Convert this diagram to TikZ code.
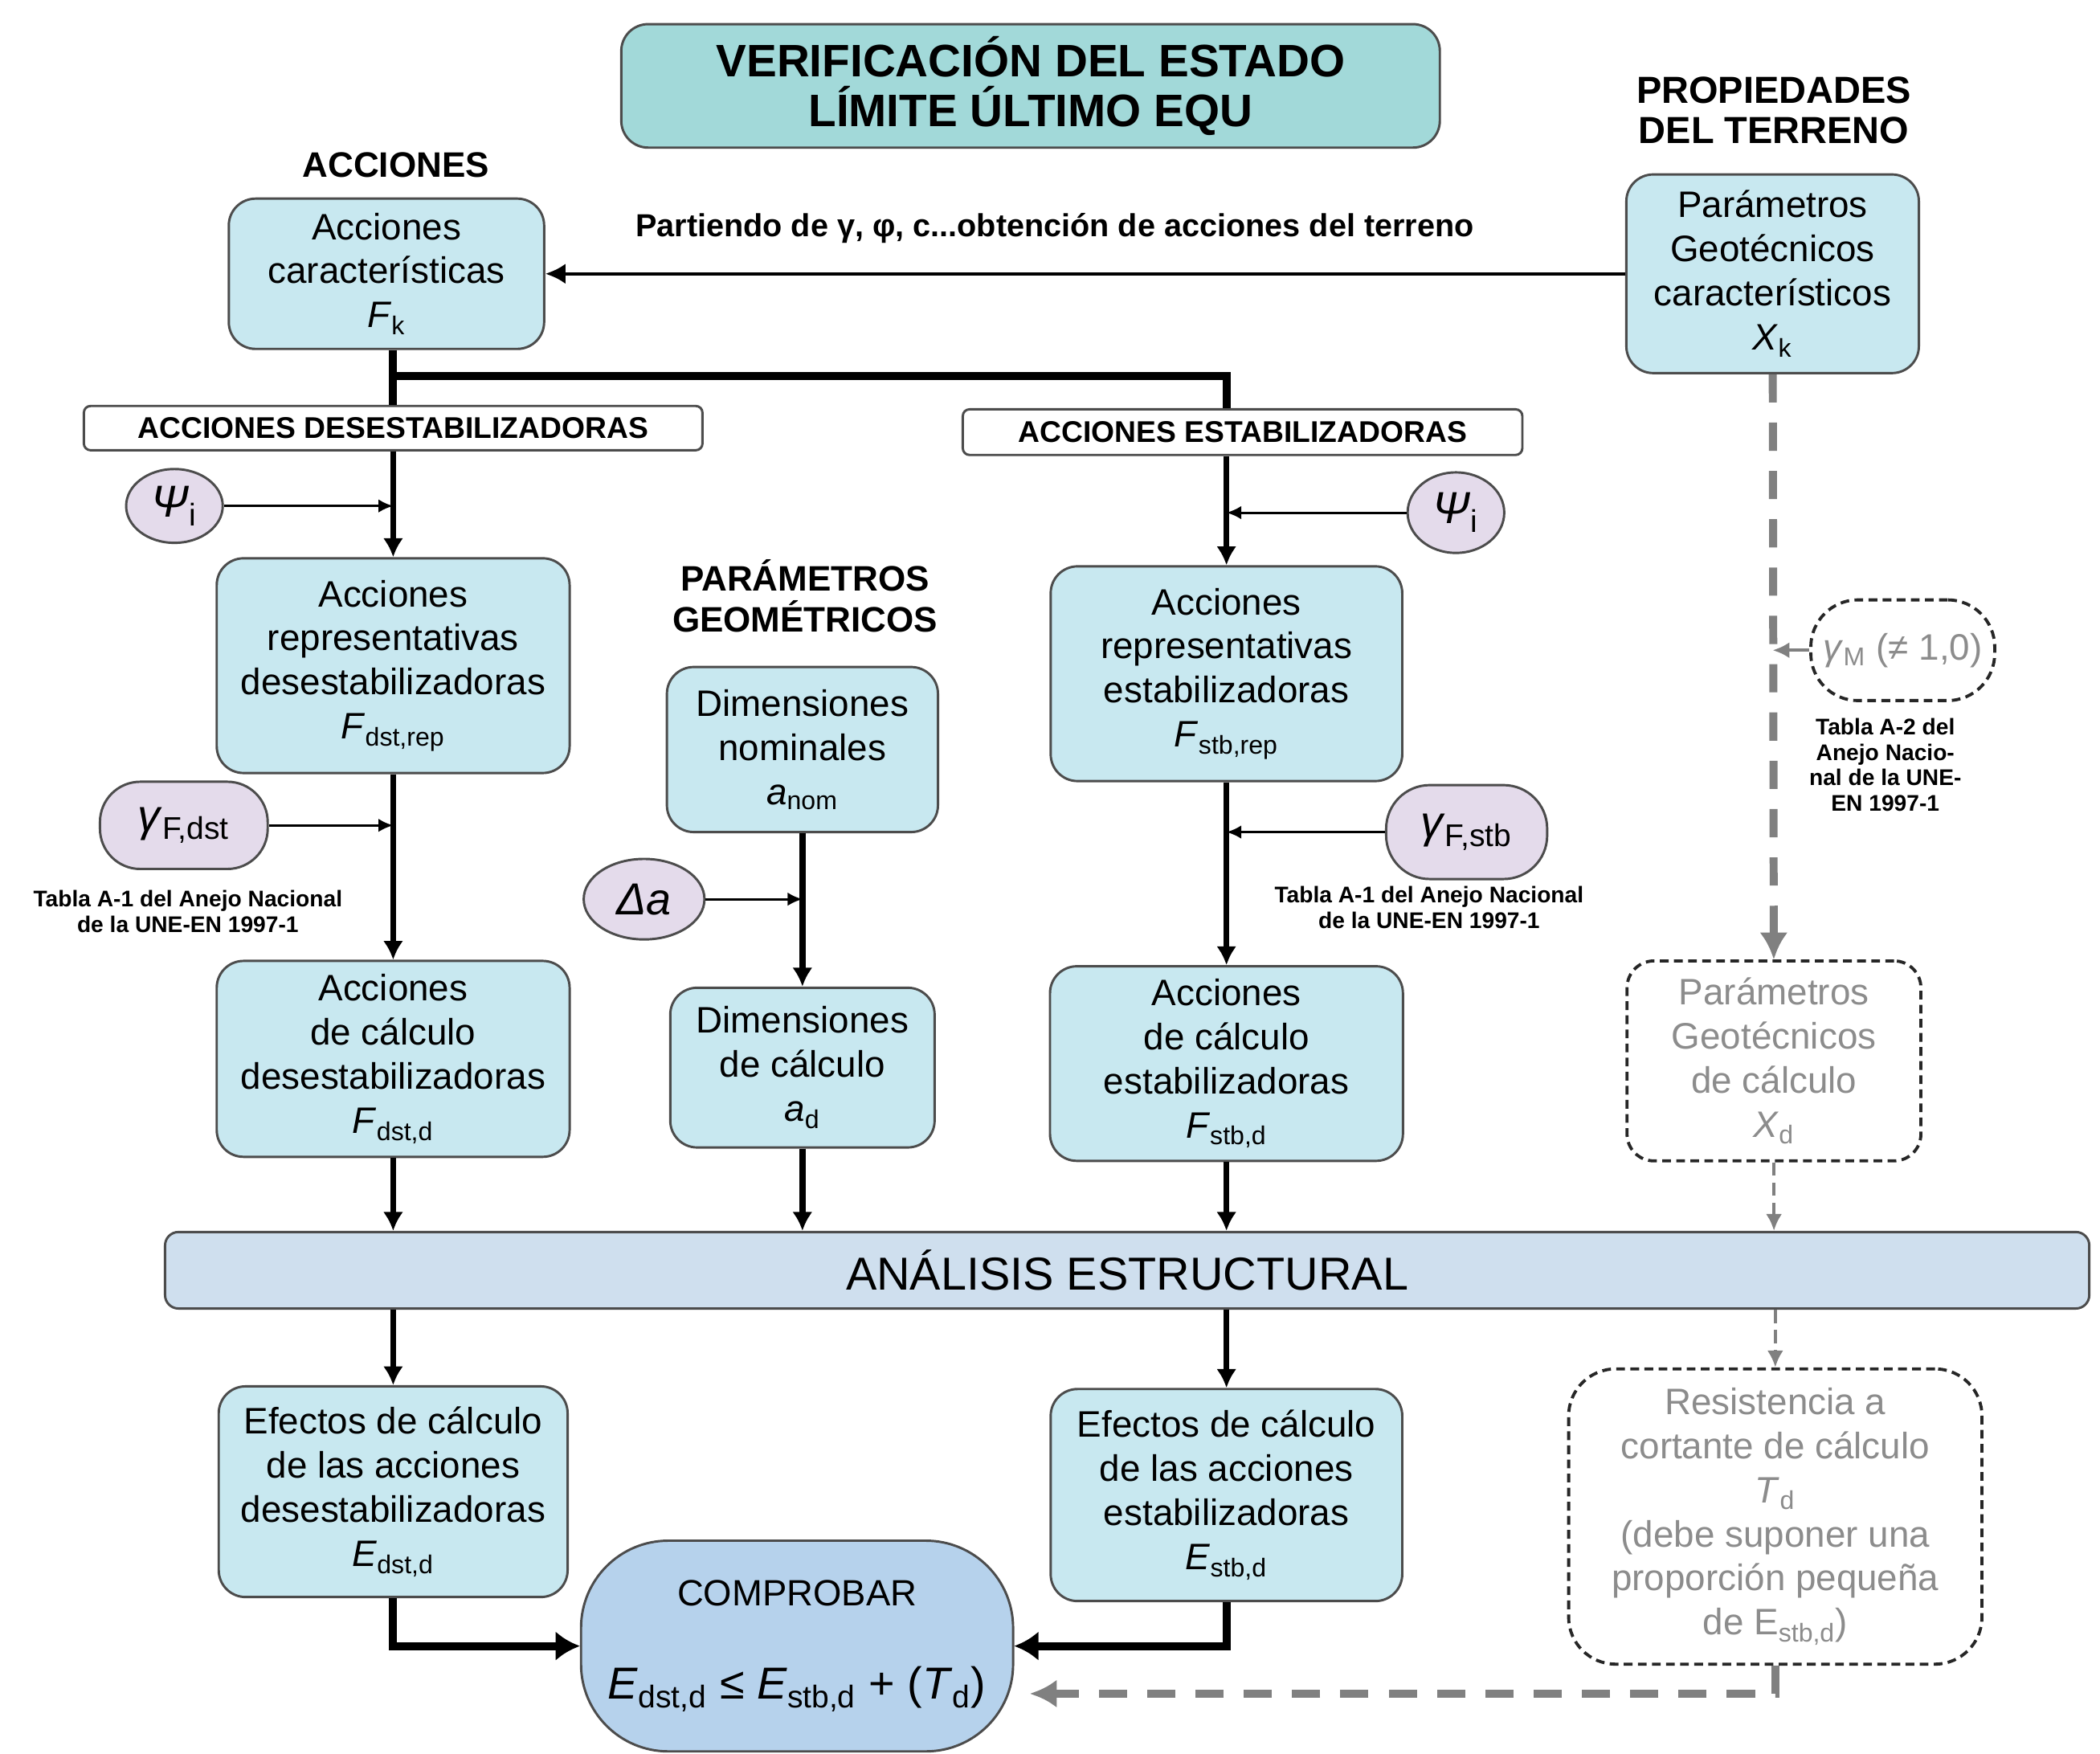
\documentclass[tikz,border=0pt]{standalone}
\usepackage{fontspec}
\setmainfont{Liberation Sans}
\usepackage{tikz}
\usetikzlibrary{arrows,arrows.meta,shapes,positioning}
\usepackage{xcolor}
\definecolor{cajaazul}{RGB}{200,232,240}
\definecolor{tituloazul}{RGB}{162,217,217}
\definecolor{lila}{RGB}{228,219,235}
\definecolor{barraazul}{RGB}{207,223,238}
\definecolor{compazul}{RGB}{182,210,236}
\definecolor{grisclaro}{RGB}{140,140,140}
\definecolor{grisflecha}{RGB}{128,128,128}
\tikzstyle{caja} = [rectangle, rounded corners=0.4cm, draw=black!70, line width=1pt, fill=cajaazul, align=center, inner sep=2pt, font=\fontsize{15.6}{18.7}\selectfont]
\tikzstyle{cajagris} = [caja, fill=white, draw=black!85, line width=1.3pt, dash pattern=on 0.13cm off 0.08cm, text=grisclaro]
\tikzstyle{titulo} = [rectangle, rounded corners=0.4cm, draw=black!70, line width=1pt, fill=tituloazul, align=center, font=\bfseries\fontsize{19.3}{21}\selectfont]
\tikzstyle{rotulo} = [rectangle, rounded corners=0.1cm, draw=black!70, line width=1pt, fill=white, inner sep=0pt, font=\bfseries\fontsize{12.7}{14}\selectfont]
\tikzstyle{coef} = [ellipse, draw=black!70, line width=1pt, fill=lila, inner sep=0pt, font=\fontsize{19}{21}\selectfont]
\tikzstyle{cabecera} = [align=center, font=\bfseries\fontsize{15}{17.5}\selectfont]
\tikzstyle{nota} = [align=center, font=\bfseries\fontsize{9.6}{10.8}\selectfont]
\tikzstyle{flecha} = [line width=2.6pt, ->, >={Latex[length=0.28cm,width=0.3cm]}]
\tikzstyle{flechafina} = [line width=1pt, ->, >={Latex[length=0.22cm,width=0.2cm]}]
\tikzstyle{flechagruesa} = [line width=3.4pt, ->, >={Latex[length=0.36cm,width=0.44cm]}]
\tikzstyle{tronco} = [line width=3.4pt]
\tikzstyle{grisgruesa} = [line width=3.4pt, grisflecha, dash pattern=on 0.42cm off 0.3cm, ->, >={Latex[length=0.4cm,width=0.42cm]}]
\tikzstyle{grisfina} = [line width=1.4pt, grisflecha, ->, >={Latex[length=0.25cm,width=0.24cm]}]

\begin{document}
\begin{tikzpicture}
\useasboundingbox[fill=white] (0,0) rectangle (31.3,-26.13);

% Titulo y cabeceras
\node[titulo, minimum width=12.2cm, minimum height=1.84cm] (tit) at (15.36,-1.28) {VERIFICACIÓN DEL ESTADO\\LÍMITE ÚLTIMO EQU};
\node[cabecera] (hacc) at (5.9,-2.46) {ACCIONES};
\node[cabecera, font=\bfseries\fontsize{16}{17}\selectfont] (hprop) at (26.44,-1.64) {PROPIEDADES\\DEL TERRENO};
\node[cabecera] (hgeo) at (12.0,-8.88) {PARÁMETROS\\GEOMÉTRICOS};

% Acciones y terreno
\node[caja, minimum width=4.7cm, minimum height=2.24cm] (fk) at (5.76,-4.08) {Acciones\\características\\\textit{F}\textsubscript{k}};
\node[caja, minimum width=4.36cm, minimum height=2.96cm] (xk) at (26.42,-4.08) {Parámetros\\Geotécnicos\\característicos\\\textit{X}\textsubscript{k}};
\node[font=\bfseries\fontsize{13.5}{15}\selectfont] (part) at (15.72,-3.4) {Partiendo de γ, φ, c...obtención de acciones del terreno};

\node[rotulo, minimum width=9.22cm, minimum height=0.66cm] (desest) at (5.86,-6.38) {ACCIONES DESESTABILIZADORAS};
\node[rotulo, minimum width=8.34cm, minimum height=0.68cm] (estab) at (18.52,-6.44) {ACCIONES ESTABILIZADORAS};
\coordinate (split) at (5.86,-5.6);

% Columna desestabilizadora
\node[coef, minimum width=1.44cm, minimum height=1.1cm] (psi1) at (2.6,-7.54) {\textit{Ψ}\textsubscript{i}};
\node[caja, minimum width=5.26cm, minimum height=3.2cm] (repdst) at (5.86,-9.92) {Acciones\\representativas\\desestabilizadoras\\\textit{F}\textsubscript{dst,rep}};
\node[coef, rectangle, rounded corners=0.6cm, minimum width=2.5cm, minimum height=1.3cm] (gfdst) at (2.74,-12.3) {\textit{γ}\textsubscript{F,dst}};
\node[nota] (nota1) at (2.8,-13.58) {Tabla A-1 del Anejo Nacional\\de la UNE-EN 1997-1};
\node[caja, minimum width=5.26cm, minimum height=2.92cm] (caldst) at (5.86,-15.78) {Acciones\\de cálculo\\desestabilizadoras\\\textit{F}\textsubscript{dst,d}};

% Parametros geometricos
\node[caja, minimum width=4.04cm, minimum height=2.46cm] (dnom) at (11.96,-11.17) {Dimensiones\\nominales\\\textit{a}\textsubscript{nom}};
\node[coef, minimum width=1.8cm, minimum height=1.2cm] (da) at (9.6,-13.4) {\textit{Δa}};
\node[caja, minimum width=3.94cm, minimum height=2.38cm] (dcal) at (11.96,-15.91) {Dimensiones\\de cálculo\\\textit{a}\textsubscript{d}};

% Columna estabilizadora
\node[coef, minimum width=1.44cm, minimum height=1.2cm] (psi2) at (21.7,-7.64) {\textit{Ψ}\textsubscript{i}};
\node[caja, minimum width=5.24cm, minimum height=3.2cm] (repstb) at (18.28,-10.04) {Acciones\\representativas\\estabilizadoras\\\textit{F}\textsubscript{stb,rep}};
\node[coef, rectangle, rounded corners=0.65cm, minimum width=2.4cm, minimum height=1.4cm] (gfstb) at (21.86,-12.4) {\textit{γ}\textsubscript{F,stb}};
\node[nota] (nota2) at (21.3,-13.52) {Tabla A-1 del Anejo Nacional\\de la UNE-EN 1997-1};
\node[caja, minimum width=5.26cm, minimum height=2.9cm] (calstb) at (18.28,-15.85) {Acciones\\de cálculo\\estabilizadoras\\\textit{F}\textsubscript{stb,d}};

% Terreno de calculo
\node[cajagris, rounded corners=0.7cm, minimum width=2.74cm, minimum height=1.5cm] (gm) at (28.36,-9.69) {\textit{γ}\textsubscript{M} (≠ 1,0)};
\node[nota] (nota3) at (28.1,-11.4) {Tabla A-2 del\\Anejo Nacio-\\nal de la UNE-\\EN 1997-1};
\node[cajagris, minimum width=4.38cm, minimum height=2.98cm] (xd) at (26.44,-15.81) {Parámetros\\Geotécnicos\\de cálculo\\\textit{X}\textsubscript{d}};

% Analisis y comprobacion
\node[rectangle, rounded corners=0.2cm, draw=black!70, line width=1pt, fill=barraazul, minimum width=28.68cm, minimum height=1.14cm, font=\fontsize{19.6}{22}\selectfont] (analisis) at (16.8,-18.93) {ANÁLISIS ESTRUCTURAL};
\node[caja, minimum width=5.2cm, minimum height=3.14cm] (efdst) at (5.86,-22.23) {Efectos de cálculo\\de las acciones\\desestabilizadoras\\\textit{E}\textsubscript{dst,d}};
\node[caja, minimum width=5.24cm, minimum height=3.16cm] (efstb) at (18.28,-22.28) {Efectos de cálculo\\de las acciones\\estabilizadoras\\\textit{E}\textsubscript{stb,d}};
\node[cajagris, rounded corners=0.7cm, minimum width=6.16cm, minimum height=4.4cm] (res) at (26.46,-22.6) {Resistencia a\\cortante de cálculo\\\textit{T}\textsubscript{d}\\(debe suponer una\\proporción pequeña\\de E\textsubscript{stb,d})};
\node[rectangle, rounded corners=1.3cm, draw=black!70, line width=1pt, fill=compazul, minimum width=6.44cm, minimum height=3.14cm, align=center, font=\fontsize{15.5}{18}\selectfont] (comp) at (11.88,-24.53) {COMPROBAR\\[0.75cm]{\fontsize{19}{22}\selectfont\textit{E}\textsubscript{dst,d} ≤ \textit{E}\textsubscript{stb,d} + (\textit{T}\textsubscript{d})}};
\coordinate (tin) at (15.35,-25.24);

% Flechas
\draw[line width=1.4pt, ->, >={Latex[length=0.3cm,width=0.3cm]}] (xk) -- (fk);
\draw[tronco] (desest |- fk.south) -- (desest);
\draw[tronco] (split) -| (repstb.north |- estab.north);

\draw[flecha] (desest) -- (repdst);
\draw[flechafina] (psi1) -- (psi1 -| repdst);
\draw[flecha] (repdst) -- (caldst);
\draw[flechafina] (gfdst) -- (gfdst -| caldst);
\draw[flecha] (caldst) -- (caldst |- analisis.north);
\draw[flecha] (caldst |- analisis.south) -- (efdst);
\draw[flechagruesa] (efdst) |- (comp);

\draw[flecha] (dnom) -- (dcal);
\draw[flechafina] (da) -- (da -| dnom);
\draw[flecha] (dcal) -- (dcal |- analisis.north);

\draw[flecha] (repstb |- estab.south) -- (repstb);
\draw[flechafina] (psi2) -- (psi2 -| repstb);
\draw[flecha] (repstb) -- (calstb);
\draw[flechafina] (gfstb) -- (gfstb -| calstb);
\draw[flecha] (calstb) -- (calstb |- analisis.north);
\draw[flecha] (calstb |- analisis.south) -- (efstb);
\draw[flechagruesa] (efstb) |- (comp);

\draw[grisgruesa] (xk) -- (xd);
\draw[grisfina] (gm) -- (gm -| xk);
\draw[grisfina, dash pattern=on 0.2cm off 0.1cm] (xd) -- (xd |- analisis.north);
\draw[grisfina, dash pattern=on 0.2cm off 0.1cm] (res |- analisis.south) -- (res);
\draw[grisgruesa] (res) |- (tin);
\end{tikzpicture}
\end{document}
